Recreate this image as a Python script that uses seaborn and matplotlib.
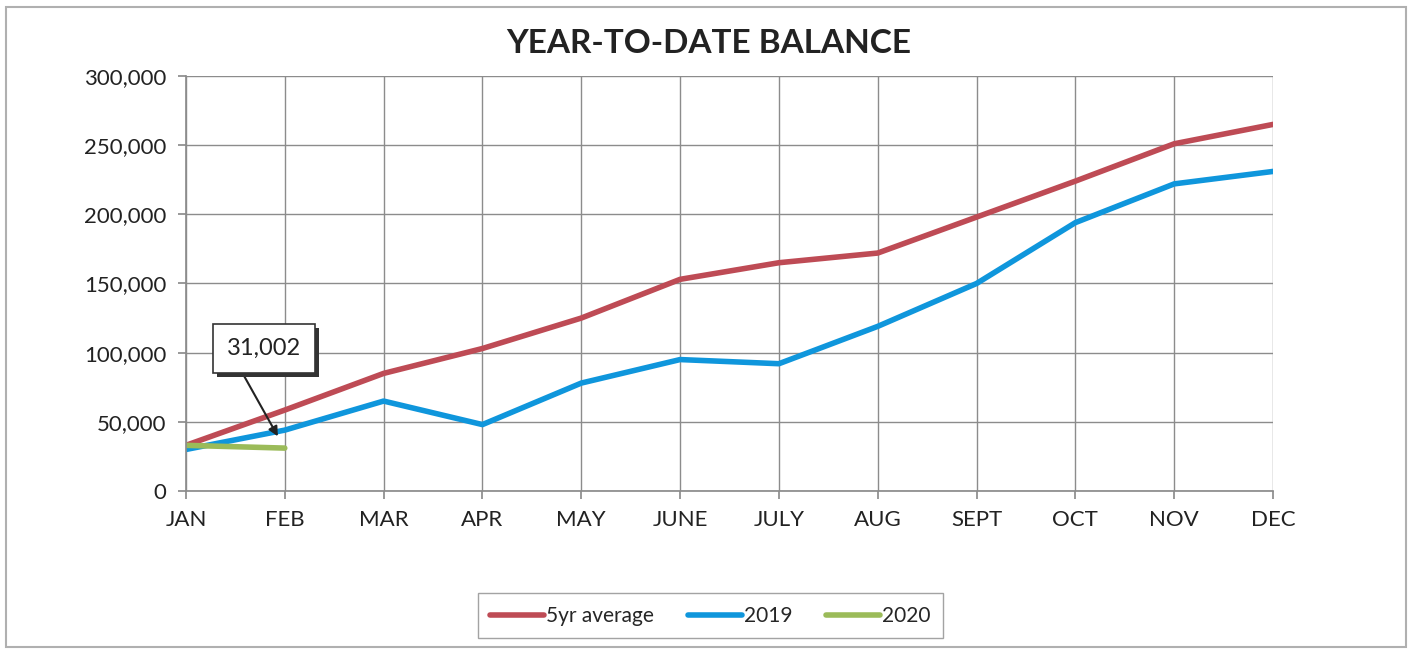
import matplotlib
matplotlib.use("Agg")
import matplotlib.pyplot as plt
import matplotlib.patheffects as pe
import seaborn as sns
import pandas as pd
from matplotlib.patches import Rectangle
from matplotlib.ticker import FuncFormatter

months = ["JAN", "FEB", "MAR", "APR", "MAY", "JUNE", "JULY", "AUG", "SEPT", "OCT", "NOV", "DEC"]
avg5 = [33000, 58500, 85000, 103000, 125000, 153000, 165000, 172000, 198000, 224000, 251000, 265000]
y2019 = [30000, 44000, 65000, 48000, 78000, 95000, 92000, 119000, 150000, 194000, 222000, 231000]
y2020 = [33000, 31002]

sns.set_theme(style="white")
plt.rcParams['font.family'] = ['Lato', 'DejaVu Sans']

rows = []
for i, v in enumerate(avg5):
    rows.append(dict(idx=i, value=v, series="5yr average"))
for i, v in enumerate(y2019):
    rows.append(dict(idx=i, value=v, series="2019"))
for i, v in enumerate(y2020):
    rows.append(dict(idx=i, value=v, series="2020"))
df = pd.DataFrame(rows)

palette = {"5yr average": "#BE4B55", "2019": "#0F96DC", "2020": "#9BBB59"}

fig = plt.figure(figsize=(14.12, 6.51), dpi=100)
ax = fig.add_axes([0.1317, 0.2458, 0.7699, 0.6375])

sns.lineplot(data=df, x="idx", y="value", hue="series", palette=palette,
             hue_order=["5yr average", "2019", "2020"], linewidth=4, ax=ax,
             legend=True)

ax.set_xlim(0, 11)
ax.set_ylim(0, 300000)
ax.set_xticks(range(12))
ax.set_xticklabels(months)
ax.set_yticks(range(0, 300001, 50000))
ax.yaxis.set_major_formatter(FuncFormatter(lambda v, p: f"{int(v):,}"))
ax.set_xlabel("")
ax.set_ylabel("")
ax.grid(True, color="#8c8c8c", linewidth=1)
for s in ["top", "right"]:
    ax.spines[s].set_visible(False)
for s in ["left", "bottom"]:
    ax.spines[s].set_color("#8c8c8c")
ax.tick_params(axis="both", which="both", length=6, color="#8c8c8c",
               direction="out", labelsize=16, labelcolor="#222222", pad=8)
ax.tick_params(axis="y", left=True)
ax.tick_params(axis="x", bottom=True)

fig.suptitle("YEAR-TO-DATE BALANCE", x=0.502, y=0.955, fontsize=24,
             fontweight="bold", color="#222222")

# annotation for 2020 value: arrow and box with shadow
ax.annotate("", xy=(0.93, 39500), xytext=(0.55, 88000),
            arrowprops=dict(arrowstyle="-|>", color="#222222", lw=1.5,
                            shrinkA=0, shrinkB=0, mutation_scale=14), zorder=5)
lbl = f"{y2020[1]:,}"
t = ax.text(0.79, 103000, lbl, fontsize=17, color="#222222", ha="center",
            va="center", zorder=7,
            bbox=dict(boxstyle="square,pad=0.6", fc="white", ec="#333333", lw=1.2))
fig.canvas.draw()
t.get_bbox_patch().set_path_effects([
    pe.SimplePatchShadow(offset=(3, -3), shadow_rgbFace="#333333", alpha=1.0),
    pe.Normal()])

handles, labels = ax.get_legend_handles_labels()
leg = ax.legend(handles, labels, loc="center", bbox_to_anchor=(0.503, 0.054),
                bbox_transform=fig.transFigure, ncol=3, frameon=True,
                fontsize=15, handlelength=2.6, handletextpad=0.1,
                columnspacing=1.6, fancybox=False, edgecolor="#8c8c8c",
                borderpad=0.6)
leg.get_frame().set_linewidth(1)

# outer chart border
fig.patches.append(Rectangle((0.004, 0.006), 0.992, 0.984, transform=fig.transFigure,
                             fill=False, edgecolor="#b0b0b0", linewidth=1.5))

fig.savefig("out.png", dpi=100)
